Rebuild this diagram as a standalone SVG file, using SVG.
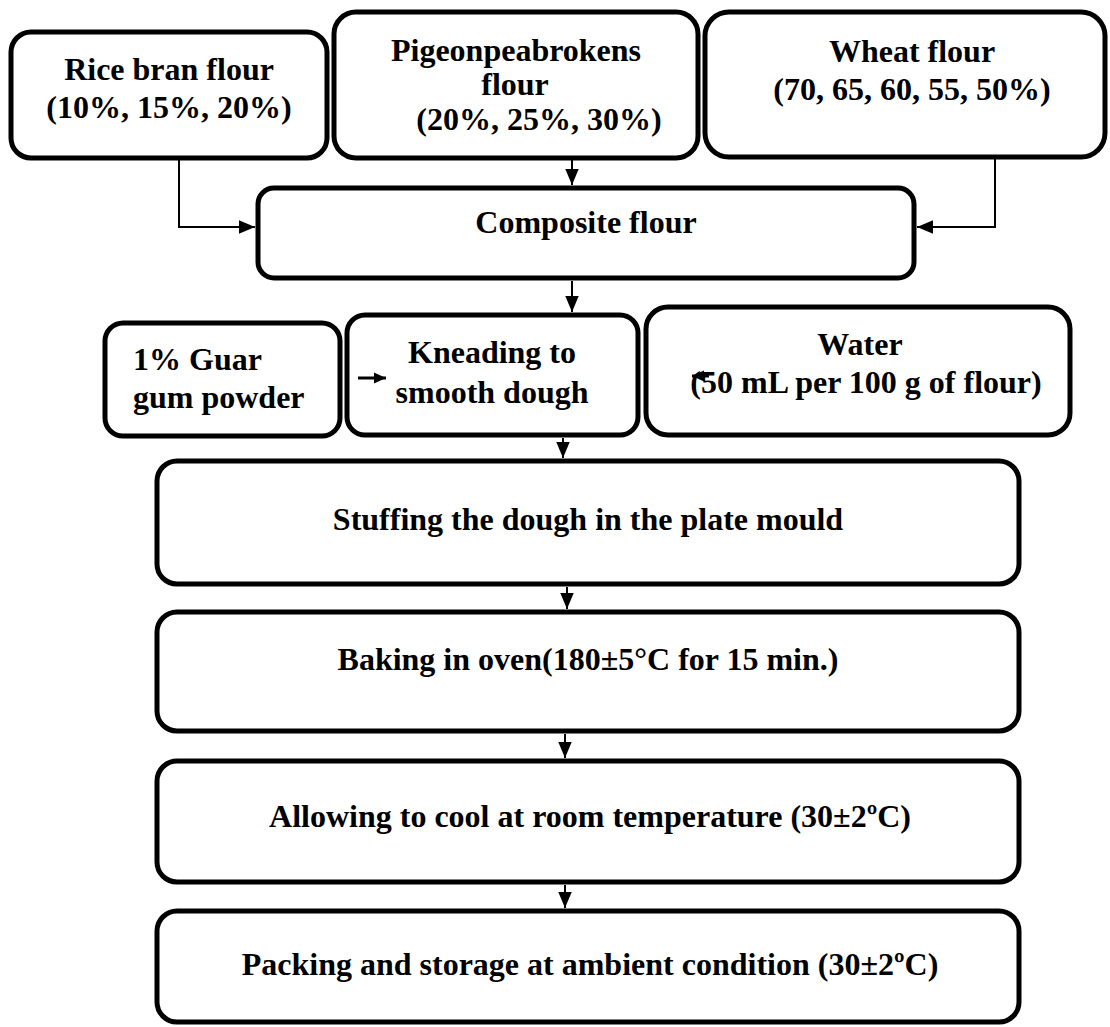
<svg xmlns="http://www.w3.org/2000/svg" width="1110" height="1027" viewBox="0 0 1110 1027">
<style>
.box{fill:#fff;stroke:#000;stroke-width:5}
.t{font-family:"Liberation Serif","Times New Roman",serif;font-weight:bold;font-size:32px;fill:#000;text-anchor:middle}
.l{text-anchor:start}
.c{fill:none;stroke:#000;stroke-width:2}
.s{fill:none;stroke:#000;stroke-width:3}
</style>
<defs>
<marker id="ah" viewBox="0 0 10 10" refX="10" refY="5" markerWidth="8" markerHeight="8" markerUnits="strokeWidth" orient="auto">
<path d="M0,0.8 L10,5 L0,9.2 z" fill="#000"/>
</marker>
<marker id="sm" viewBox="0 0 10 10" refX="10" refY="5" markerWidth="4" markerHeight="4" markerUnits="strokeWidth" orient="auto">
<path d="M0,0.5 L10,5 L0,9.5 z" fill="#000"/>
</marker>
</defs>
<rect width="1110" height="1027" fill="#fff"/>
<g id="rice">
<rect class="box" x="11" y="32" width="316" height="126" rx="20"/>
<text class="t" x="169" y="80">Rice bran flour</text>
<text class="t" x="169" y="118">(10%, 15%, 20%)</text>
</g>
<g id="pigeonpea">
<rect class="box" x="334" y="12" width="364" height="146" rx="22"/>
<text class="t" x="516" y="61">Pigeonpeabrokens</text>
<text class="t" x="515" y="95">flour</text>
<text class="t" x="539" y="130">(20%, 25%, 30%)</text>
</g>
<g id="wheat">
<rect class="box" x="705" y="12" width="400" height="145" rx="24"/>
<text class="t" x="912" y="62">Wheat flour</text>
<text class="t" x="912" y="100">(70, 65, 60, 55, 50%)</text>
</g>
<g id="composite">
<rect class="box" x="258" y="188" width="656" height="90" rx="16"/>
<text class="t" x="586" y="233">Composite flour</text>
</g>
<g id="guar">
<rect class="box" x="105" y="323" width="235" height="113" rx="18"/>
<text class="t l" x="133" y="370">1% Guar</text>
<text class="t l" x="133" y="408">gum powder</text>
</g>
<g id="kneading">
<rect class="box" x="347" y="315" width="291" height="120" rx="18"/>
<text class="t" x="492" y="363">Kneading to</text>
<text class="t" x="492" y="403">smooth dough</text>
</g>
<g id="water">
<rect class="box" x="646" y="307" width="424" height="128" rx="22"/>
<text class="t" x="860" y="355">Water</text>
<text class="t" x="866" y="393">(50 mL per 100 g of flour)</text>
</g>
<g id="stuffing">
<rect class="box" x="157" y="461" width="862" height="123" rx="20"/>
<text class="t" x="588" y="530">Stuffing the dough in the plate mould</text>
</g>
<g id="baking">
<rect class="box" x="157" y="612" width="862" height="119" rx="20"/>
<text class="t" x="588" y="670">Baking in oven(180±5°C for 15 min.)</text>
</g>
<g id="cooling">
<rect class="box" x="157" y="761" width="862" height="121" rx="20"/>
<text class="t" x="590" y="827">Allowing to cool at room temperature (30±2ºC)</text>
</g>
<g id="packing">
<rect class="box" x="157" y="911" width="862" height="111" rx="20"/>
<text class="t" x="590" y="975">Packing and storage at ambient condition (30±2ºC)</text>
</g>
<g id="connectors">
<path class="c" d="M179,160 V227 H255" marker-end="url(#ah)"/>
<path class="c" d="M995,159 V227 H917" marker-end="url(#ah)"/>
<path class="c" d="M572,160 V185" marker-end="url(#ah)"/>
<path class="c" d="M572,281 V312" marker-end="url(#ah)"/>
<path class="s" d="M358,378 H386" marker-end="url(#sm)"/>
<path class="s" d="M709,376 H692" marker-end="url(#sm)"/>
<path class="c" d="M563,438 V458" marker-end="url(#ah)"/>
<path class="c" d="M567,587 V609" marker-end="url(#ah)"/>
<path class="c" d="M565,734 V758" marker-end="url(#ah)"/>
<path class="c" d="M565,885 V908" marker-end="url(#ah)"/>
</g>
</svg>
